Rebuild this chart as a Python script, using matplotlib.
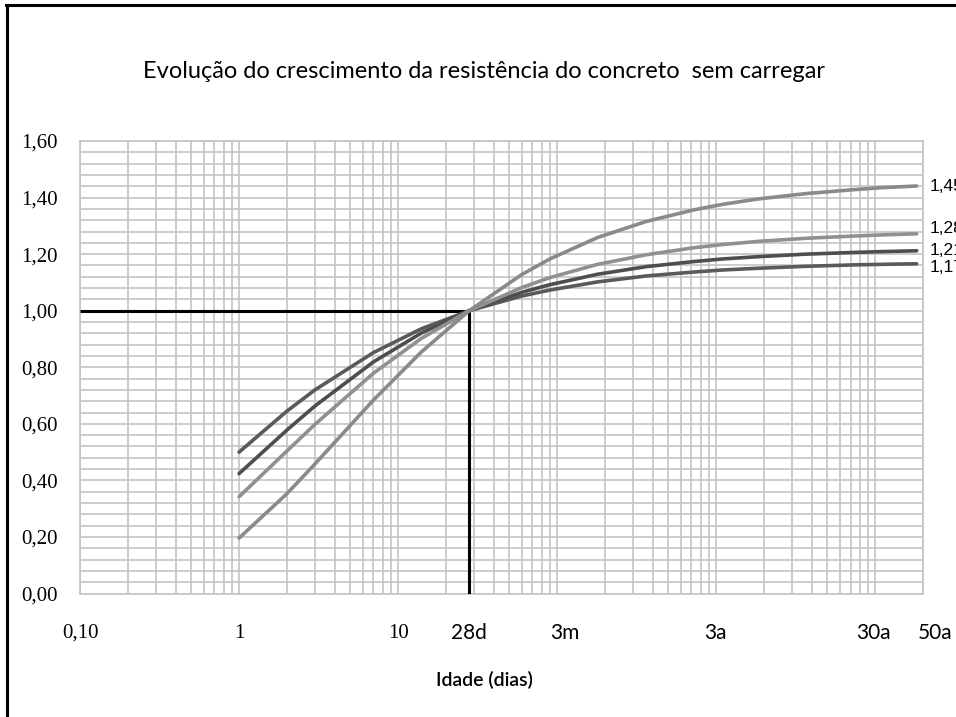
import numpy as np
import matplotlib
matplotlib.use("Agg")
import matplotlib.pyplot as plt
from matplotlib.ticker import MultipleLocator, LogLocator, NullFormatter
from matplotlib.lines import Line2D
import matplotlib.transforms as mtransforms

# idade (dias) e resistencia relativa
dias = [1, 2, 3, 7, 14, 28, 60, 90, 180, 365, 730, 1095, 1825, 3650, 7300, 10950, 18250]
curva_a = [0.50, 0.645, 0.720, 0.852, 0.936, 1.00, 1.052, 1.073, 1.102, 1.123, 1.137, 1.144, 1.150, 1.157, 1.162, 1.164, 1.166]
curva_b = [0.424, 0.578, 0.663, 0.819, 0.921, 1.00, 1.065, 1.092, 1.129, 1.156, 1.174, 1.183, 1.191, 1.200, 1.206, 1.209, 1.212]
curva_c = [0.342, 0.504, 0.598, 0.779, 0.902, 1.00, 1.082, 1.117, 1.164, 1.198, 1.223, 1.234, 1.245, 1.256, 1.264, 1.268, 1.272]
curva_d = [0.196, 0.353, 0.458, 0.684, 0.854, 1.00, 1.128, 1.183, 1.259, 1.316, 1.357, 1.376, 1.395, 1.414, 1.428, 1.435, 1.441]
rotulos_fim = ["1,17", "1,21", "1,28", "1,45"]
desloc_fim = [-3, 0, 4, 0]  # pontos, para os rotulos nao se sobreporem

# rotulos do eixo x (texto e posicao em dias)
x_rotulos = ["0,10", "1", "10", "28d", "3m", "3a", "30a", "50a"]
x_pos = [0.1, 1, 10, 28, 112, 986, 9710, 23830]

fig = plt.figure(figsize=(9.56, 7.17), dpi=100)
ax = fig.add_axes([0.0837, 0.1722, 0.8818, 0.6311])

grid_cor = "#c4c4c4"
ax.set_xscale("log")
ax.set_xlim(0.1, 20000)
ax.set_ylim(0, 1.6)
ax.xaxis.set_major_locator(LogLocator(base=10, numticks=20))
ax.xaxis.set_minor_locator(LogLocator(base=10, subs=np.arange(2, 10), numticks=50))
ax.xaxis.set_major_formatter(NullFormatter())
ax.xaxis.set_minor_formatter(NullFormatter())
ax.yaxis.set_major_locator(MultipleLocator(0.2))
ax.yaxis.set_minor_locator(MultipleLocator(0.04))
ax.grid(True, which="both", color=grid_cor, lw=1.2)
ax.tick_params(which="both", length=0)
ax.tick_params(axis="y", pad=16)
for s in ax.spines.values():
    s.set_color(grid_cor)
    s.set_linewidth(1.2)

ax.set_yticks(np.arange(0, 1.61, 0.2))
ax.set_yticklabels([("%.2f" % v).replace(".", ",") for v in np.arange(0, 1.61, 0.2)],
                   fontfamily="Liberation Serif", fontsize=15)

# linhas de referencia em 28 dias
ax.plot([0.1, 28], [1, 1], color="black", lw=2.2, solid_capstyle="butt", zorder=3)
ax.plot([28, 28], [0, 1], color="black", lw=2.2, solid_capstyle="butt", zorder=3)

cores = ["#5a5a5a", "#4e4e4e", "#909090", "#8a8a8a"]
for serie, cor in zip([curva_a, curva_b, curva_c, curva_d], cores):
    ax.plot(dias, serie, color=cor, lw=2.6, zorder=4, solid_capstyle="round")

for serie, txt, dy in zip([curva_a, curva_b, curva_c, curva_d], rotulos_fim, desloc_fim):
    ax.annotate(txt, (dias[-1], serie[-1]), xytext=(9, dy), textcoords="offset points",
                va="center", ha="left", fontfamily="Liberation Sans", fontsize=12.5,
                annotation_clip=False)

trans = mtransforms.blended_transform_factory(ax.transData, fig.transFigure)
for i, (txt, xp) in enumerate(zip(x_rotulos, x_pos)):
    fam = "Liberation Serif" if i < 3 else "Lato"
    ax.text(xp, 1 - 633 / 717, txt, transform=trans, ha="center", va="center",
            fontfamily=fam, fontsize=15, clip_on=False)

fig.text(484 / 956, 1 - 680 / 717, "Idade (dias)", ha="center", va="center",
         fontfamily="Lato", fontsize=14, fontweight="semibold")
fig.text(484 / 956, 1 - 72 / 717,
         "Evolução do crescimento da resistência do concreto  sem carregar",
         ha="center", va="center", fontfamily="Lato", fontsize=17)

# moldura
fig.add_artist(Line2D([7 / 956, 7 / 956], [0, 1 - 5 / 717], color="black", lw=2.2,
                      transform=fig.transFigure))
fig.add_artist(Line2D([6 / 956, 1], [1 - 5 / 717, 1 - 5 / 717], color="black", lw=2.2,
                      transform=fig.transFigure))

fig.savefig("out.png", dpi=100)
